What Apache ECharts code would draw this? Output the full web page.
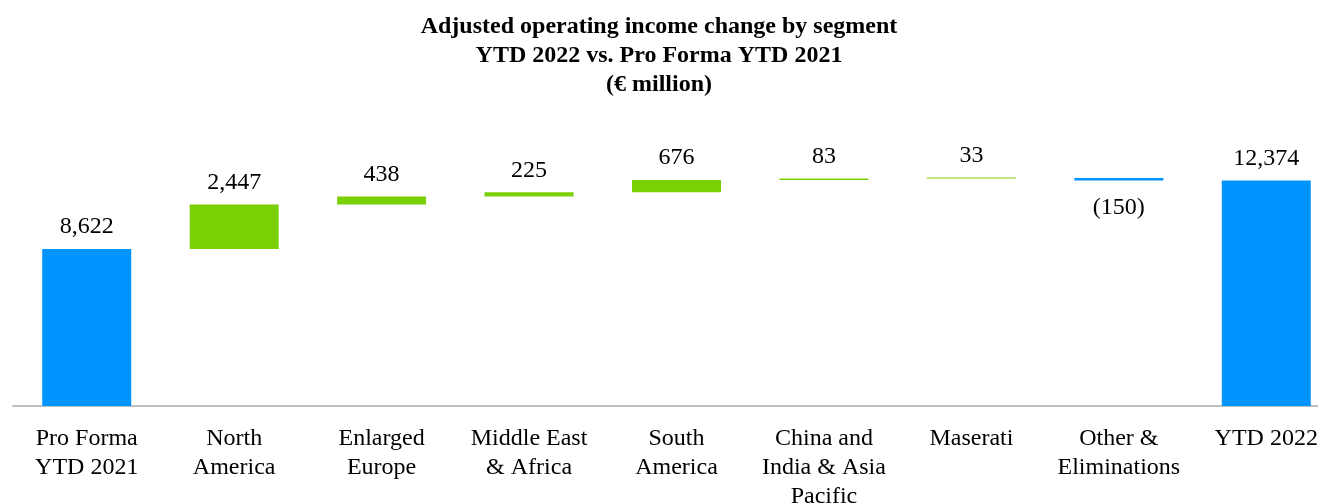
<!DOCTYPE html>
<html>
<head>
<meta charset="utf-8">
<script src="https://cdn.jsdelivr.net/npm/echarts@6/dist/echarts.min.js"></script>
<style>
  html, body { margin: 0; padding: 0; background: #fff; }
  #chart { width: 1318px; height: 503px; }
</style>
</head>
<body>
<div id="chart"></div>
<script>
// Data
const categories = ['Pro Forma\nYTD 2021', 'North\nAmerica', 'Enlarged\nEurope', 'Middle East\n& Africa',
    'South\nAmerica', 'China and\nIndia & Asia\nPacific', 'Maserati', 'Other &\nEliminations', 'YTD 2022'];
const changes = [8622, 2447, 438, 225, 676, 83, 33, -150, 12374];
const isTotal = [true, false, false, false, false, false, false, false, true];

const BLUE = '#0094FF';
const GREEN = '#7BCF05';

// waterfall: invisible base + visible part
let running = 0;
const baseData = [];
const barData = [];
changes.forEach((v, i) => {
    if (isTotal[i]) {
        baseData.push(0);
        barData.push({ value: v, itemStyle: { color: BLUE } });
        running = v;
    } else if (v >= 0) {
        baseData.push(running);
        barData.push({ value: v, itemStyle: { color: GREEN } });
        running += v;
    } else {
        running += v;
        baseData.push(running);
        barData.push({
            value: -v,
            itemStyle: { color: BLUE },
            label: { position: 'bottom', distance: 15 }
        });
    }
});

const fmt = (i) => {
    const v = changes[i];
    const s = Math.abs(v).toLocaleString('en-US');
    return v < 0 ? '(' + s + ')' : s;
};

const chart = echarts.init(document.getElementById('chart'));
chart.setOption({
    animation: false,
    title: {
        text: 'Adjusted operating income change by segment\nYTD 2022 vs. Pro Forma YTD 2021\n(€ million)',
        left: 'center',
        top: 7,
        textStyle: {
            fontFamily: 'Liberation Serif',
            fontWeight: 'bold',
            fontSize: 24,
            lineHeight: 29,
            color: '#000'
        }
    },
    grid: { left: 13, width: 1327, top: 100, bottom: 97, outerBoundsMode: 'none', containLabel: false },
    xAxis: {
        type: 'category',
        data: categories,
        axisLine: { lineStyle: { color: '#C0C0C0', width: 2 } },
        axisTick: { show: false },
        axisLabel: {
            interval: 0,
            margin: 18,
            fontFamily: 'Liberation Serif',
            fontSize: 24,
            lineHeight: 29,
            color: '#000'
        }
    },
    yAxis: {
        type: 'value',
        min: 0,
        max: 16800,
        show: false,
        splitLine: { show: false }
    },
    series: [
        {
            type: 'bar',
            stack: 'wf',
            data: baseData,
            barWidth: 89,
            itemStyle: { color: 'transparent' },
            emphasis: { disabled: true },
            silent: true
        },
        {
            type: 'bar',
            stack: 'wf',
            data: barData,
            barWidth: 89,
            barMinHeight: 1,
            label: {
                show: true,
                position: 'top',
                distance: 10,
                fontFamily: 'Liberation Serif',
                fontSize: 24,
                color: '#000',
                formatter: p => fmt(p.dataIndex)
            }
        }
    ]
});
</script>
</body>
</html>
